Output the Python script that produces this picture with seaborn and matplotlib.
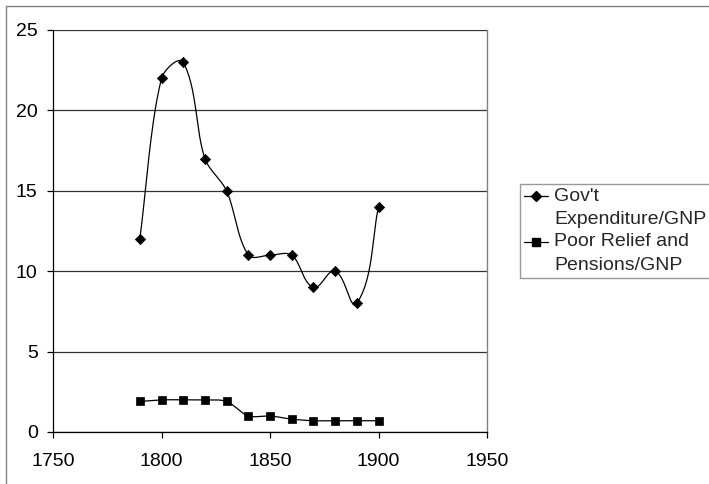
import numpy as np
import pandas as pd
import matplotlib
matplotlib.use("Agg")
import matplotlib.pyplot as plt
import seaborn as sns
from matplotlib.patches import Rectangle
from matplotlib.legend_handler import HandlerLine2D

years = [1790, 1800, 1810, 1820, 1830, 1840, 1850, 1860, 1870, 1880, 1890, 1900]
govt_exp = [12, 22, 23, 17, 15, 11, 11, 11, 9, 10, 8, 14]
poor_relief = [1.9, 2.0, 2.0, 2.0, 1.9, 1.0, 1.0, 0.8, 0.7, 0.7, 0.7, 0.7]
labels = ["Gov't\nExpenditure/GNP", "Poor Relief and\nPensions/GNP"]


def smooth(ax, x, y, f=0.3, n=30):
    # Excel-like smoothed line: cubic Bezier in screen space, tangent arms
    # scaled by the length of each segment
    p = ax.transData.transform(np.column_stack([x, y]).astype(float))
    ext = np.vstack([p[0], p, p[-1]])
    tang = ext[2:] - ext[:-2]
    tang = tang / np.linalg.norm(tang, axis=1)[:, None]
    t = np.linspace(0, 1, n)[:, None]
    out = []
    for i in range(len(p) - 1):
        p0, p3 = p[i], p[i + 1]
        L = np.linalg.norm(p3 - p0)
        c1 = p0 + tang[i] * L * f
        c2 = p3 - tang[i + 1] * L * f
        seg = ((1 - t) ** 3) * p0 + 3 * ((1 - t) ** 2) * t * c1 + 3 * (1 - t) * t ** 2 * c2 + t ** 3 * p3
        out.append(seg if i == 0 else seg[1:])
    out = ax.transData.inverted().transform(np.vstack(out))
    return out[:, 0], out[:, 1]


class TopLineHandler(HandlerLine2D):
    # put the legend key next to the first line of a two-line label
    def create_artists(self, legend, orig_handle, xdescent, ydescent,
                       width, height, fontsize, trans):
        arts = super().create_artists(legend, orig_handle, xdescent, ydescent,
                                      width, height, fontsize, trans)
        for a in arts:
            a.set_ydata(np.asarray(a.get_ydata()) + 0.6 * fontsize)
        return arts


sns.set_theme(style="white")
plt.rcParams["font.family"] = ["Liberation Sans", "DejaVu Sans"]

fig = plt.figure(figsize=(7.09, 4.84), dpi=100)
ax = fig.add_axes([53 / 709, 52 / 484, 434 / 709, 402 / 484])

# chart area border
fig.patches.append(Rectangle((6 / 709, -0.1), 1.2, (484 - 6) / 484 + 0.1,
                             transform=fig.transFigure, fill=False,
                             edgecolor="#808080", lw=1.0, zorder=0))

ax.set_xlim(1750, 1950)
ax.set_ylim(0, 25)

df = pd.DataFrame({"year": years, "govt": govt_exp, "poor": poor_relief})

handles = []
for col, mk, ms in [("govt", "D", 5), ("poor", "s", 6)]:
    sx, sy = smooth(ax, df["year"], df[col])
    ax.plot(sx, sy, color="black", lw=0.9, zorder=3)
    sns.scatterplot(data=df, x="year", y=col, marker=mk, s=ms ** 2 * 1.1,
                    color="black", edgecolor="black", linewidth=0.5, zorder=4,
                    legend=False, ax=ax)
    h, = ax.plot([], [], color="black", lw=0.9, marker=mk, ms=ms)
    handles.append(h)

ax.set_xlim(1750, 1950)
ax.set_ylim(0, 25)
ax.set_xlabel("")
ax.set_ylabel("")
ax.set_xticks([1750, 1800, 1850, 1900, 1950])
ax.set_yticks([0, 5, 10, 15, 20, 25])
ax.yaxis.grid(True, color="#333333", lw=0.9)
ax.xaxis.grid(False)
ax.set_axisbelow(True)

for s in ["left", "bottom"]:
    ax.spines[s].set_color("black")
    ax.spines[s].set_linewidth(0.9)
ax.spines["right"].set_color("#808080")
ax.spines["right"].set_linewidth(1.0)
ax.spines["top"].set_visible(False)

ax.tick_params(axis="both", which="major", labelsize=14, colors="black",
               direction="out", length=4, width=0.9)
ax.tick_params(axis="y", pad=7)
ax.tick_params(axis="x", pad=11)
ax.tick_params(bottom=True, left=True)

leg = fig.legend(handles, labels, loc="upper left",
                 bbox_to_anchor=(520 / 709, (484 - 184) / 484),
                 fontsize=14, frameon=True, fancybox=False, handlelength=1.25,
                 handletextpad=0.3, borderpad=0.2, labelspacing=0.25,
                 borderaxespad=0,
                 handler_map={h: TopLineHandler() for h in handles})
for txt in leg.get_texts():
    txt.set_linespacing(1.5)
leg.get_frame().set_edgecolor("#808080")
leg.get_frame().set_linewidth(1.0)

fig.savefig("out.png", dpi=100)
